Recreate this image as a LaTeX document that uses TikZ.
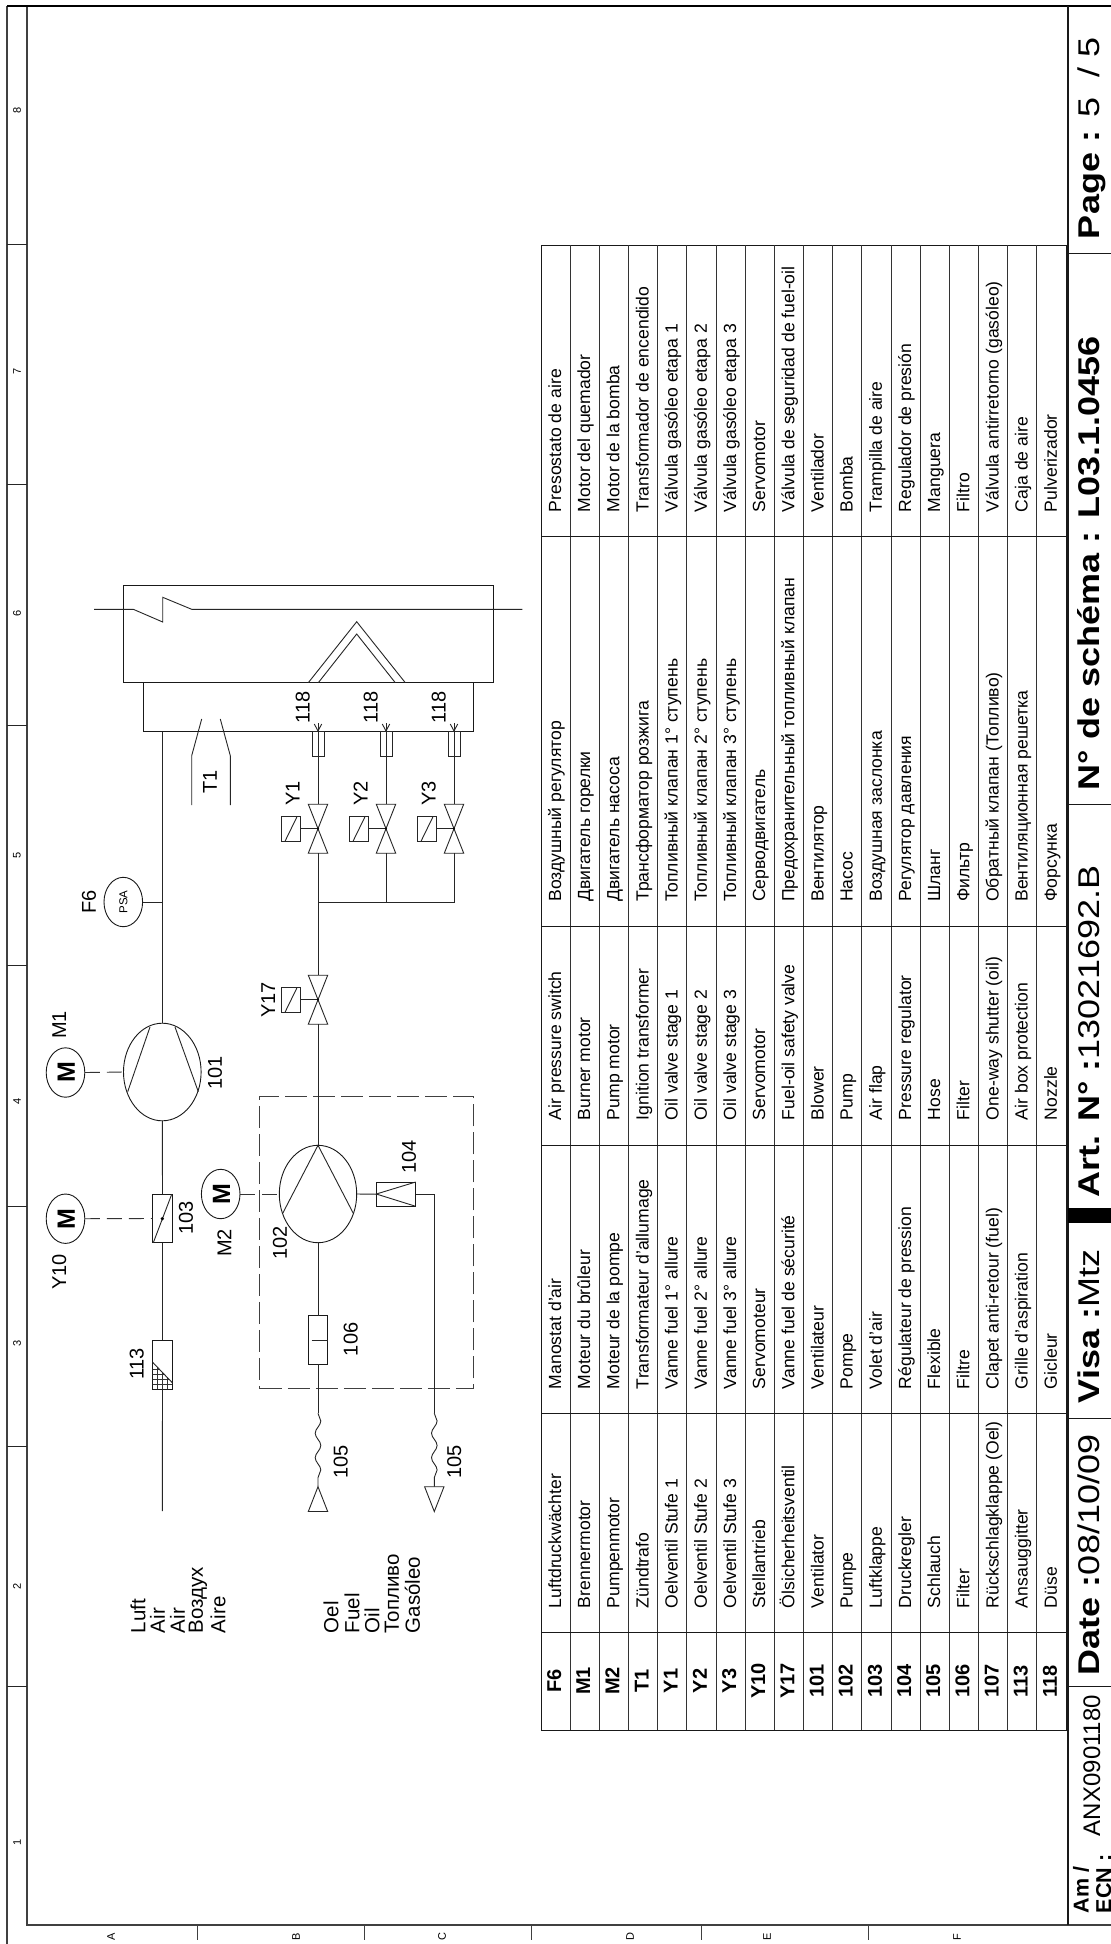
\documentclass[tikz,border=0pt]{standalone}
\usepackage{fontspec}
\setmainfont{Liberation Sans}
\newfontfamily\titlefont[FakeStretch=1.2]{Liberation Sans}
\usetikzlibrary{decorations.pathmorphing}
\usetikzlibrary{shapes.geometric}
\tikzset{
    x=1pt, y=-1pt,
    every node/.style={inner sep=0pt, outer sep=0pt},
    pipe/.style={draw=black!85, line width=0.9pt},
    linkdash/.style={draw=black!80, line width=0.9pt, dash pattern=on 15pt off 7pt},
    roundpart/.style={draw=black!90, line width=0.9pt, ellipse, fill=none},
    boxpart/.style={draw=black!90, line width=0.9pt},
    partlabel/.style={rotate=90, font=\fontsize{20}{20}\selectfont},
    celltext/.style={rotate=90, anchor=base west, font=\fontsize{17.6}{17.6}\selectfont},
    cellcode/.style={rotate=90, anchor=base, font=\fontsize{20}{20}\selectfont\bfseries},
    titletext/.style={rotate=90, anchor=base west, font=\titlefont\fontsize{30}{30}\selectfont}
}
% valve with its coil, centred on the pipe
\newcommand{\valvesym}[3]{
    \coordinate (#1) at (#2,#3);
    \coordinate (#1top) at (#2,#3-24.5);
    \coordinate (#1bot) at (#2,#3+24.5);
    \draw[pipe] (#1top) -- ++(-9.7,0) -- ++(19.4,49) -- ++(-19.4,0) -- ++(19.4,-49) -- cycle;
    \draw[pipe] (#2-36.7,#3-12) rectangle (#2-17.3,#3+12.6);
    \draw[pipe] (#2-33,#3+12.6) -- (#2-21,#3-12);
    \draw[pipe] (#2-17.3,#3) -- (#1);
    \fill (#1) circle (1.2pt);
}
% nozzle tip
\newcommand{\nozzlesym}[2]{
    \draw[pipe] (#2-6,731.7) rectangle (#2+6,756);
    \draw[pipe] (#2,723) -- (#2,756);
    \draw[pipe] (#2-3.7,724) -- (#2,731) -- (#2+3.7,724);
    \coordinate (#1) at (#2,756);
}
\begin{document}
\begin{tikzpicture}
    \useasboundingbox (0,0) rectangle (1111,1944);
    \fill[white] (0,0) rectangle (1111,1944);

    % Frame
    \draw[black!75, line width=1.2pt] (7,1944) -- (7,6) (27,6) -- (27,1925) -- (1111,1925);
    \draw[black, line width=1.8pt] (7,6) -- (1111,6);
    \foreach \yy in {244,484,725,965,1206,1446,1686} {
        \draw[black!85, line width=0.8pt] (7,\yy) -- (27,\yy);
    }
    \foreach \yy/\txt in {110/8,371/7,613/6,855/5,1101/4,1343/3,1586/2,1842/1} {
        \node[rotate=90, font=\fontsize{11}{11}\selectfont] (col\txt) at (17,\yy) {\txt};
    }
    \foreach \xx in {197,364,531,701,868} {
        \draw[black!75, line width=0.8pt] (\xx,1925) -- (\xx,1940);
    }
    \foreach \xx/\txt in {111/A,296/B,442/C,630/D,767/E,957/F} {
        \node[rotate=90, font=\fontsize{11}{11}\selectfont] (row\txt) at (\xx,1937) {\txt};
    }

    % Burner head
    \node[boxpart, minimum width=370pt, minimum height=97.7pt] (head) at (308.3,633.8) {};
    \node[boxpart, minimum width=330.3pt, minimum height=49pt] (tube) at (308.2,707.2) {};
    \coordinate (flameL) at (94,609.3);
    \coordinate (flameR) at (522.3,609.3);
    \draw[pipe] (flameL) -- (133.3,609.3) -- (162.7,622) -- (162.7,597.3) -- (191.7,609.3) -- (flameR);
    \draw[pipe] (308.3,682.7) -- (356.7,621.7) -- (405.3,682.7);
    \draw[pipe] (318.3,682.7) -- (356.7,634) -- (395.3,682.7);

    % Ignition
    \draw[pipe] (191.7,805) -- (191.7,755.7) -- (201.7,719);
    \draw[pipe] (230.3,805) -- (230.3,755.7) -- (220.3,719);
    \node[partlabel] (T1) at (210,782) {T1};

    % Air side
    \node[roundpart, minimum width=77.6pt, minimum height=97.6pt] (fan) at (162.3,1072) {};
    \draw[pipe] (127.7,1091.7) -- (150,1027);
    \draw[pipe] (198.3,1091.7) -- (175,1027);
    \node[roundpart, minimum width=38.6pt, minimum height=49.4pt] (F6sw) at (123.3,902) {};
    \node[rotate=90, font=\fontsize{11.5}{11.5}\selectfont] (PSA) at (123.3,902) {PSA};
    \node[partlabel] (F6) at (89,902) {F6};
    \node[roundpart, minimum width=38.6pt, minimum height=49.4pt] (M1) at (65.5,1072.5) {};
    \node[rotate=90, font=\fontsize{25}{25}\selectfont\bfseries] (M1txt) at (66.3,1072.5) {M};
    \node[partlabel] (M1lab) at (59.3,1025) {M1};
    \node[roundpart, minimum width=38.6pt, minimum height=49.4pt] (Y10) at (65.5,1218.7) {};
    \node[rotate=90, font=\fontsize{25}{25}\selectfont\bfseries] (Y10txt) at (66.3,1218.7) {M};
    \node[partlabel] (Y10lab) at (59.3,1272) {Y10};
    \node[boxpart, minimum width=19.6pt, minimum height=48.4pt] (flap) at (162.5,1218.5) {};
    \draw[pipe] (153.3,1242.7) -- (171.7,1194.3);
    \fill (162.3,1218.7) circle (1.8pt);
    \node[boxpart, minimum width=19.6pt, minimum height=49.3pt] (grid) at (162.5,1364.7) {};
    \begin{scope}
        \clip (152.7,1362.3) -- (172.3,1382.7) -- (172.3,1389.3) -- (152.7,1389.3) -- cycle;
        \foreach \xx in {157.7,162.3,167.3} {\draw[black!80, line width=0.6pt] (\xx,1360) -- (\xx,1390);}
        \foreach \yy in {1369,1374,1379,1384} {\draw[black!80, line width=0.6pt] (152,\yy) -- (173,\yy);}
    \end{scope}
    \draw[pipe] (152.7,1362.3) -- (172.3,1382.7);
    \coordinate (airend) at (162.3,1511);
    \draw[pipe] (162.3,731.7) -- (fan.north);
    \draw[pipe] (162.3,902) -- (F6sw.east);
    \draw[pipe] (fan.south) -- (flap.north);
    \draw[pipe] (flap.south) -- (grid.north);
    \draw[pipe] (grid.south) -- (airend);
    \draw[linkdash] (M1.east) -- (fan.west);
    \draw[linkdash] (Y10.east) -- (flap.west);
    \node[partlabel] (p101) at (215,1072.7) {101};
    \node[partlabel] (p103) at (186,1217.7) {103};
    \node[partlabel] (p113) at (136.7,1364) {113};

    % Oil side
    \node[draw=black!75, line width=1pt, dash pattern=on 22pt off 6pt, minimum width=213.3pt, minimum height=292.3pt] (unit) at (366.6,1242.8) {};
    \node[roundpart, minimum width=77.4pt, minimum height=97.4pt] (pump) at (318,1194) {};
    \draw[pipe] (282.7,1213.3) -- (pump.north) -- (353.3,1213.3);
    \node[roundpart, minimum width=38.6pt, minimum height=49.4pt] (M2) at (220.7,1194) {};
    \node[rotate=90, font=\fontsize{25}{25}\selectfont\bfseries] (M2txt) at (221.5,1194) {M};
    \draw[linkdash] (M2.east) -- (pump.west);
    \node[partlabel] (M2lab) at (224.3,1243) {M2};
    \node[partlabel] (p102) at (280,1243) {102};
    \node[boxpart, minimum width=39.4pt, minimum height=24.3pt] (reg) at (396,1194.2) {};
    \draw[pipe] (415.7,1182) -- (376.3,1194) -- (415.7,1206.3);
    \node[partlabel] (p104) at (409,1156.7) {104};
    \node[boxpart, minimum width=19.4pt, minimum height=48.6pt] (filt) at (318,1340) {};
    \draw[pipe] (311.7,1340.7) -- (327.7,1340.7);
    \node[partlabel] (p106) at (350.7,1339.3) {106};
    \coordinate (wavL1) at (318,1413.3);
    \coordinate (wavL2) at (318,1486.7);
    \coordinate (wavR1) at (434.3,1413.3);
    \coordinate (wavR2) at (434.3,1486.7);
    \draw[pipe] (pump.south) -- (filt.north);
    \draw[pipe] (filt.south) -- (wavL1);
    \draw[pipe] (pump.east) -- (reg.west);
    \draw[pipe] (reg.east) -- (434.3,1194.2) -- (wavR1);
    \draw[pipe, decorate, decoration={snake, segment length=24.5pt, amplitude=2.8pt}] (wavL1) -- (wavL2);
    \draw[pipe, decorate, decoration={snake, segment length=24.5pt, amplitude=2.8pt}] (wavR1) -- (wavR2);
    \draw[pipe] (wavL2) -- (308.3,1511.5) -- (327.7,1511.5) -- cycle;
    \draw[pipe] (424.6,1486.7) -- (444,1486.7) -- (434.3,1511.5) -- cycle;
    \node[partlabel] (p105a) at (340.7,1461.7) {105};
    \node[partlabel] (p105b) at (454.3,1461.7) {105};

    % Valves and nozzles
    \valvesym{Vone}{318}{828.7}
    \valvesym{Vtwo}{386}{828.7}
    \valvesym{Vthree}{454}{828.7}
    \valvesym{Vsafe}{318}{999.7}
    \nozzlesym{None}{318}
    \nozzlesym{Ntwo}{386}
    \nozzlesym{Nthree}{454}
    \draw[pipe] (Vonetop) -- (None);
    \draw[pipe] (Vtwotop) -- (Ntwo);
    \draw[pipe] (Vthreetop) -- (Nthree);
    \coordinate (manif) at (318,902);
    \draw[pipe] (Vonebot) -- (Vsafetop);
    \draw[pipe] (Vsafebot) -- (pump.north);
    \draw[pipe] (manif) -- (454,902) -- (Vthreebot);
    \draw[pipe] (386,902) -- (Vtwobot);
    \foreach \xx/\txt in {292.7/Y1,360.7/Y2,428.7/Y3} {
        \node[partlabel] (lab\txt) at (\xx,793.3) {\txt};
    }
    \node[partlabel] (labY17) at (268.3,1000) {Y17};
    \foreach \xx/\nm in {302.7/a,370.7/b,438.7/c} {
        \node[partlabel] (noz\nm) at (\xx,707.3) {118};
    }

    % Media labels
    \foreach \xx/\txt in {138/Luft,157.5/Air,177.5/Air,198/Воздух,218/Aire,331/Oel,352/Fuel,372/Oil,392/Топливо,412.5/Gasóleo} {
        \node[celltext, anchor=west, font=\fontsize{20.5}{20.5}\selectfont] at (\xx,1633) {\txt};
    }

    % Table
    \draw[black!90, line width=0.9pt] (541,245) rectangle (1066,1730);
    \foreach \ii in {1,...,17} {
        \draw[black!80, line width=0.9pt] ({541+\ii*29.17},245) -- ({541+\ii*29.17},1730);
    }
    \foreach \yy in {536,926.7,1145.7,1413,1632.7} {
        \draw[black!90, line width=0.9pt] (541,\yy) -- (1066,\yy);
    }
    \foreach \code/\de/\fr/\en/\ru/\es [count=\ii from 0] in {
        F6/Luftdruckwächter/Manostat d'air/Air pressure switch/Воздушный регулятор/Presostato de aire,
        M1/Brennermotor/Moteur du brûleur/Burner motor/Двигатель горелки/Motor del quemador,
        M2/Pumpenmotor/Moteur de la pompe/Pump motor/Двигатель насоса/Motor de la bomba,
        T1/Zündtrafo/Transformateur d'allumage/Ignition transformer/Трансформатор розжига/Transformador de encendido,
        Y1/Oelventil Stufe 1/Vanne fuel 1° allure/Oil valve stage 1/Топливный клапан 1° ступень/Válvula gasóleo etapa 1,
        Y2/Oelventil Stufe 2/Vanne fuel 2° allure/Oil valve stage 2/Топливный клапан 2° ступень/Válvula gasóleo etapa 2,
        Y3/Oelventil Stufe 3/Vanne fuel 3° allure/Oil valve stage 3/Топливный клапан 3° ступень/Válvula gasóleo etapa 3,
        Y10/Stellantrieb/Servomoteur/Servomotor/Серводвигатель/Servomotor,
        Y17/Ölsicherheitsventil/Vanne fuel de sécurité/Fuel-oil safety valve/Предохранительный топливный клапан/Válvula de seguridad de fuel-oil,
        101/Ventilator/Ventilateur/Blower/Вентилятор/Ventilador,
        102/Pumpe/Pompe/Pump/Насос/Bomba,
        103/Luftklappe/Volet d'air/Air flap/Воздушная заслонка/Trampilla de aire,
        104/Druckregler/Régulateur de pression/Pressure regulator/Регулятор давления/Regulador de presión,
        105/Schlauch/Flexible/Hose/Шланг/Manguera,
        106/Filter/Filtre/Filter/Фильтр/Filtro,
        107/Rückschlagklappe (Oel)/Clapet anti-retour (fuel)/One-way shutter (oil)/Обратный клапан (Топливо)/Válvula antirretorno (gasóleo),
        113/Ansauggitter/Grille d'aspiration/Air box protection/Вентиляционная решетка/Caja de aire,
        118/Düse/Gicleur/Nozzle/Форсунка/Pulverizador} {
        \pgfmathsetmacro{\rowx}{541+29.17*\ii+20}
        \node[cellcode] (code\ii) at (\rowx,1681) {\code};
        \node[celltext] at (\rowx,1608) {\de};
        \node[celltext] at (\rowx,1389) {\fr};
        \node[celltext] at (\rowx,1120) {\en};
        \node[celltext] at (\rowx,901.7) {\ru};
        \node[celltext] at (\rowx,512) {\es};
    }

    % Title strip
    \draw[black!90, line width=1.2pt] (1068,6) -- (1068,1925);
    \foreach \yy in {253,804,1418,1686} {
        \draw[black!90, line width=0.9pt] (1068,\yy) -- (1111,\yy);
    }
    \fill[black] (1068,1208) rectangle (1111,1223);
    \node[rotate=90, anchor=base west, font=\fontsize{21.5}{21.5}\selectfont\bfseries] (ecnA) at (1088.5,1913) {Am /};
    \node[rotate=90, anchor=base west, font=\fontsize{21.5}{21.5}\selectfont\bfseries] (ecnB) at (1111,1913) {ECN :};
    \node[rotate=90, anchor=base west, font=\fontsize{24}{24}\selectfont] (anx) at (1100,1836) {ANX0901180};
    \node[titletext] (date) at (1099.5,1675) {\textbf{Date :}08/10/09};
    \node[titletext] (visa) at (1099.5,1403) {\textbf{Visa :}Mtz};
    \node[titletext] (art) at (1099.5,1197) {\textbf{Art. N° :}13021692.B};
    \node[titletext] (schema) at (1099.5,790) {\textbf{N° de schéma : L03.1.0456}};
    \node[titletext] (page) at (1099.5,239) {\textbf{Page :} 5 \ / 5};
\end{tikzpicture}
\end{document}
